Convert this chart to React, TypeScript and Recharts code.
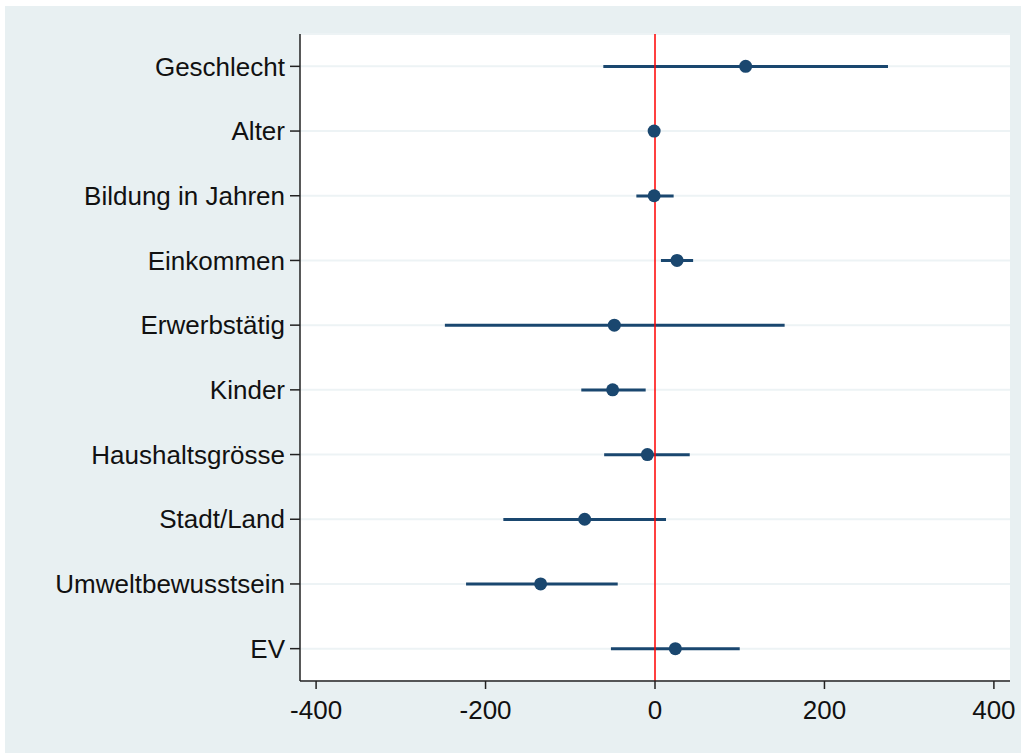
import {
  ComposedChart,
  Bar,
  Line,
  XAxis,
  YAxis,
  CartesianGrid,
  ReferenceLine,
} from "recharts";

const variables = [
  "Geschlecht",
  "Alter",
  "Bildung in Jahren",
  "Einkommen",
  "Erwerbstätig",
  "Kinder",
  "Haushaltsgrösse",
  "Stadt/Land",
  "Umweltbewusstsein",
  "EV",
];
const coefficients = [107, -1, -1, 26, -48, -50, -9, -83, -135, 24];
const ciLower = [-61, -4, -22, 7, -248, -87, -60, -179, -223, -52];
const ciUpper = [275, 2, 22, 45, 153, -11, 41, 13, -44, 100];
const xTicks = [-400, -200, 0, 200, 400];

const navy = "#1a476f";
const bgColor = "#e8f0f2";

export default function App() {
  const data = variables.map((name, i) => ({
    name,
    coef: coefficients[i],
    ci: [ciLower[i], ciUpper[i]],
  }));

  return (
    <div
      style={{
        position: "absolute",
        left: 0,
        top: 0,
        width: 1026,
        height: 753,
        background: "#fff",
        fontFamily: "'Liberation Sans', Arial, sans-serif",
      }}
    >
      <div
        style={{
          position: "absolute",
          left: 5,
          top: 6,
          width: 1016,
          height: 747,
          background: bgColor,
        }}
      />
      <div style={{ position: "absolute", left: 0, top: 0 }}>
        <ComposedChart
          layout="vertical"
          width={1026}
          height={753}
          data={data}
          margin={{ top: 34, right: 16, left: 0, bottom: 22 }}
        >
          <CartesianGrid
            vertical={false}
            stroke="#edf3f5"
            strokeWidth={2}
            fill="#ffffff"
          />
          <XAxis
            type="number"
            domain={[-419, 419]}
            ticks={xTicks}
            allowDataOverflow
            height={50}
            tickSize={8}
            tickMargin={12}
            stroke="#222"
            strokeWidth={1.5}
            tick={{ fill: "#111", fontSize: 26 }}
          />
          <YAxis
            type="category"
            dataKey="name"
            width={300}
            tickSize={10}
            tickMargin={5}
            stroke="#222"
            strokeWidth={1.5}
            tick={{ fill: "#111", fontSize: 26 }}
          />
          <ReferenceLine x={0} stroke="#ff0000" strokeWidth={1.5} />
          <Bar
            dataKey="ci"
            barSize={3}
            fill={navy}
            isAnimationActive={false}
          />
          <Line
            dataKey="coef"
            stroke="none"
            dot={{ r: 6.5, fill: navy, stroke: navy, strokeWidth: 0 }}
            activeDot={false}
            isAnimationActive={false}
          />
        </ComposedChart>
      </div>
    </div>
  );
}
